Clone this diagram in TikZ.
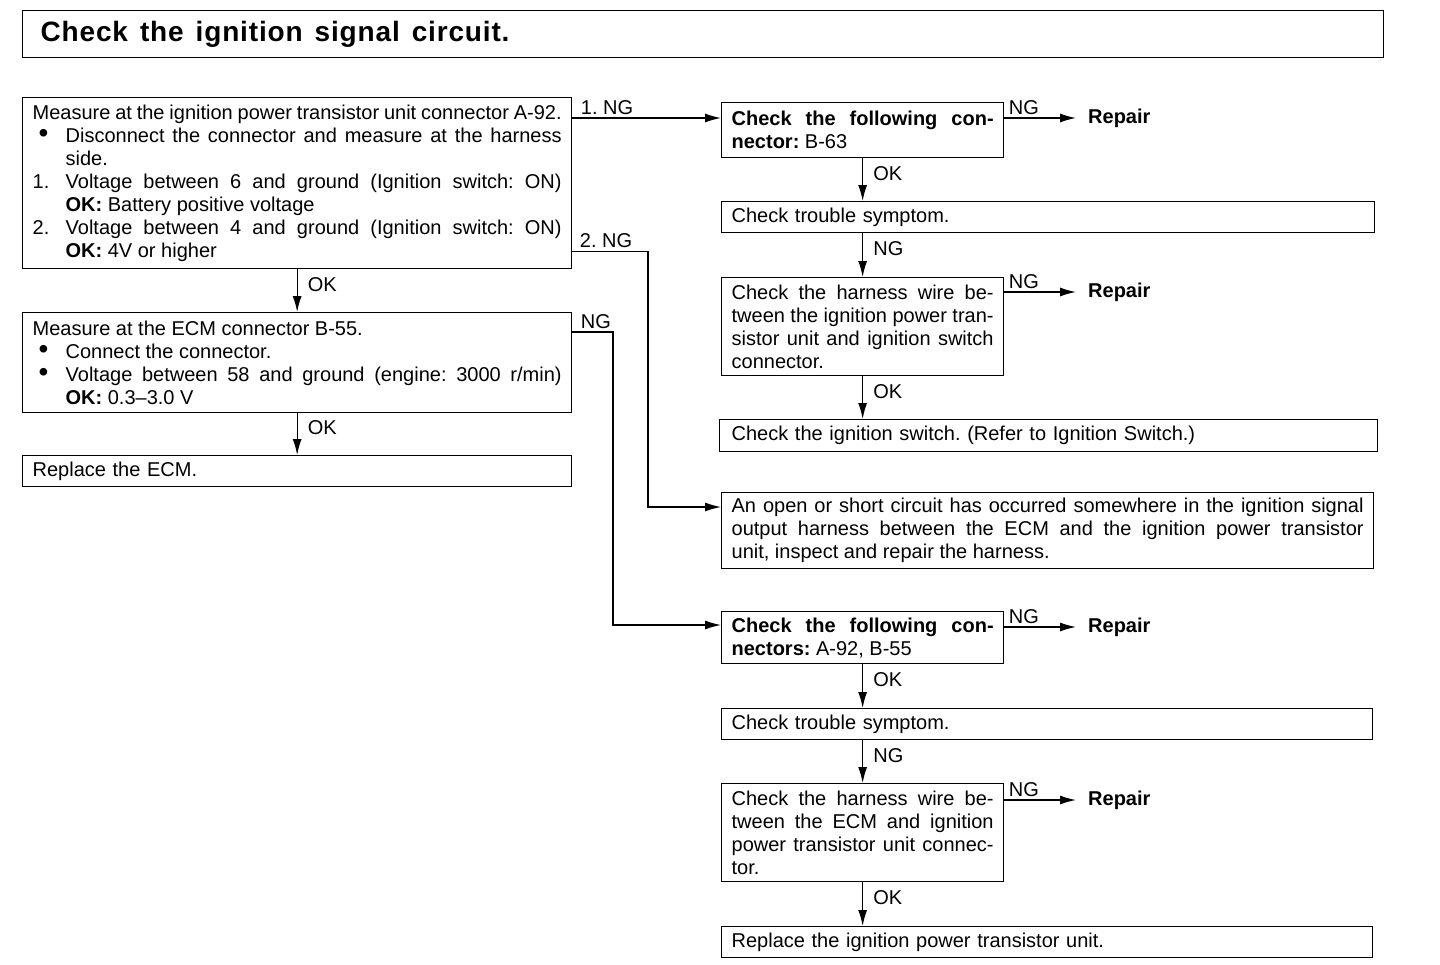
\documentclass[tikz,border=0pt]{standalone}
\usepackage{graphicx}
\usepackage{fontspec}
\setmainfont{Liberation Sans}
\usetikzlibrary{arrows.meta,positioning}
\frenchspacing
\newcommand{\itm}[1]{\makebox[33pt][l]{#1}}
\newcommand{\bul}{\hspace{6pt}\smash{\scalebox{1.4}{\textbullet}}}

\begin{document}
\begin{tikzpicture}[x=1pt, y=-1pt,
    box/.style={draw, line width=1.3pt, anchor=north west, inner xsep=10pt, inner ysep=0pt,
                font=\fontsize{20}{23}\selectfont},
    arr/.style={line width=1.3pt, -{Latex[length=16pt,width=9pt]}},
    lbl/.style={font=\fontsize{20}{23}\selectfont, inner sep=2pt},
    repair/.style={anchor=west, inner xsep=12pt, inner ysep=2pt,
                   font=\fontsize{20}{23}\selectfont\bfseries}]
  \useasboundingbox (0,0) rectangle (1440,964);

  % Title
  \node[box, inner xsep=18pt, text width=1325pt, minimum height=47pt, align=left,
        font=\fontsize{28}{30}\selectfont\bfseries\addfontfeatures{LetterSpace=3}] (title) at (22,10)
        {{\spaceskip=12pt plus 2pt\relax Check the ignition signal circuit.}};

  % Left column
  \node[box, align=justify, text width=529pt, minimum height=171pt] (meas) at (22,97)
    {Measure at the ignition power transistor unit connector A-92.\newline
     \itm{\bul}Disconnect the connector and measure at the harness\linebreak
     \itm{}side.\newline
     \itm{1.}Voltage between 6 and ground (Ignition switch: ON)\linebreak
     \itm{}\textbf{OK:} Battery positive voltage\newline
     \itm{2.}Voltage between 4 and ground (Ignition switch: ON)\linebreak
     \itm{}\textbf{OK:} 4V or higher};
  \node[box, align=justify, text width=529pt, minimum height=100pt] (ecm) at (22,312)
    {Measure at the ECM connector B-55.\newline
     \itm{\bul}Connect the connector.\newline
     \itm{\bul}Voltage between 58 and ground (engine: 3000 r/min)\linebreak
     \itm{}\textbf{OK:} 0.3--3.0 V};
  \node[box, align=left, text width=529pt, minimum height=31pt] (repecm) at (22,455)
    {Replace the ECM.};

  % Right column, upper branch
  \node[box, align=justify, text width=262pt, minimum height=55pt] (conn1) at (721,102)
    {\textbf{Check the following con-}\linebreak
     \textbf{nector:} B-63};
  \node[box, align=left, text width=633pt, minimum height=31pt] (trbl1) at (721,201)
    {Check trouble symptom.};
  \node[box, align=justify, text width=262pt, minimum height=98pt] (wire1) at (721,277)
    {Check the harness wire be-\linebreak
     tween the ignition power tran-\linebreak
     sistor unit and ignition switch\linebreak
     connector.};
  \node[box, inner xsep=12pt, align=left, text width=634pt, minimum height=32pt] (igsw) at (719,419)
    {Check the ignition switch. (Refer to Ignition Switch.)};
  \node[box, align=justify, text width=632pt, minimum height=76pt] (open) at (721,492)
    {An open or short circuit has occurred somewhere in the ignition signal\linebreak
     output harness between the ECM and the ignition power transistor\linebreak
     unit, inspect and repair the harness.};

  % Right column, lower branch
  \node[box, align=justify, text width=262pt, minimum height=52pt] (conn2) at (721,611)
    {\textbf{Check the following con-}\linebreak
     \textbf{nectors:} A-92, B-55};
  \node[box, align=left, text width=631pt, minimum height=31pt] (trbl2) at (721,708)
    {Check trouble symptom.};
  \node[box, align=justify, text width=262pt, minimum height=98pt] (wire2) at (721,783)
    {Check the harness wire be-\linebreak
     tween the ECM and ignition\linebreak
     power transistor unit connec-\linebreak
     tor.};
  \node[box, align=left, text width=631pt, minimum height=31pt] (reptr) at (721,926)
    {Replace the ignition power transistor unit.};

  % Repair
  \node[repair] (rep1) at (1076,118) {Repair};
  \node[repair] (rep2) at (1076,292) {Repair};
  \node[repair] (rep3) at (1076,627) {Repair};
  \node[repair] (rep4) at (1076,800) {Repair};

  % Left column arrows
  \draw[arr] (meas.south) -- node[lbl, right=8pt, pos=.35] {OK} (ecm.north);
  \draw[arr] (ecm.south) -- node[lbl, right=8pt, pos=.35] {OK} (repecm.north);
  \draw[arr] ([yshift=-21pt]meas.north east) node[lbl, above right=1pt and 6pt] {1. NG}
    -- ([yshift=-21pt]meas.north east -| conn1.west);
  \draw[arr] ([yshift=18pt]meas.south east) node[lbl, above right=1pt and 5pt] {2. NG}
    -| ([xshift=-73pt,yshift=-15pt]open.north west) -- ([yshift=-15pt]open.north west);
  \draw[arr] ([yshift=-20pt]ecm.north east) node[lbl, above right=1pt and 6pt] {NG}
    -| ([xshift=-108pt,yshift=-14pt]conn2.north west) -- ([yshift=-14pt]conn2.north west);

  % Right column arrows
  \draw[arr] (conn1.south) -- node[lbl, right=8pt, pos=.35] {OK} (conn1.south |- trbl1.north);
  \draw[arr] (wire1.north |- trbl1.south) -- node[lbl, right=8pt, pos=.35] {NG} (wire1.north);
  \draw[arr] (wire1.south) -- node[lbl, right=8pt, pos=.35] {OK} (wire1.south |- igsw.north);
  \draw[arr] (conn2.south) -- node[lbl, right=8pt, pos=.35] {OK} (conn2.south |- trbl2.north);
  \draw[arr] (wire2.north |- trbl2.south) -- node[lbl, right=8pt, pos=.35] {NG} (wire2.north);
  \draw[arr] (wire2.south) -- node[lbl, right=8pt, pos=.35] {OK} (wire2.south |- reptr.north);

  % NG to repair
  \draw[arr] (conn1.east |- rep1) node[lbl, above right=1pt and 2pt] {NG} -- (rep1);
  \draw[arr] (wire1.east |- rep2) node[lbl, above right=1pt and 2pt] {NG} -- (rep2);
  \draw[arr] (conn2.east |- rep3) node[lbl, above right=1pt and 2pt] {NG} -- (rep3);
  \draw[arr] (wire2.east |- rep4) node[lbl, above right=1pt and 2pt] {NG} -- (rep4);
\end{tikzpicture}
\end{document}
